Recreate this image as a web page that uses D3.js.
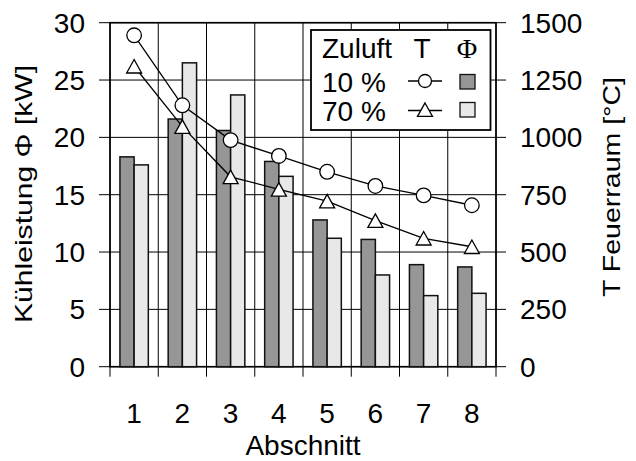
<!DOCTYPE html>
<html><head><meta charset="utf-8">
<script src="https://cdn.jsdelivr.net/npm/d3@7"></script>
<style>body{margin:0;background:#fff}svg{display:block}text{font-family:"Liberation Sans",Arial,sans-serif;fill:#000}</style>
</head><body><svg id="c" width="636" height="461"></svg>
<script>
const categories = ["1","2","3","4","5","6","7","8"];
const phi10 = [18.3, 21.6, 20.6, 17.9, 12.8, 11.1, 8.9, 8.7];
const phi70 = [17.6, 26.5, 23.7, 16.6, 11.2, 8.0, 6.2, 6.4];
const temp10 = [1445, 1140, 988, 919, 850, 788, 747, 704];
const temp70 = [1310, 1047, 828, 773, 722, 637, 560, 523];
const leftTicks = [0,5,10,15,20,25,30];
const rightTicks = [0,250,500,750,1000,1250,1500];

const svg = d3.select("#c");
const L=110, R=496, T=22.7, B=366.7;
const x = d3.scaleBand().domain(categories).range([L,R]).padding(0);
const y = d3.scaleLinear().domain([0,30]).range([B,T]);
const yT = d3.scaleLinear().domain([0,1500]).range([B,T]);
const cx = d => x(d)+x.bandwidth()/2;
const bw = 14.2;
const dark="#969696", light="#e8e8e8";

// grid
const g = svg.append("g");
g.selectAll(".hg").data(leftTicks).join("line")
 .attr("x1",L-11).attr("x2",R).attr("y1",d=>y(d)).attr("y2",d=>y(d))
 .attr("stroke","#000").attr("stroke-width",1);
g.selectAll(".rt").data(rightTicks).join("line")
 .attr("x1",R).attr("x2",R+10).attr("y1",d=>yT(d)).attr("y2",d=>yT(d))
 .attr("stroke","#000").attr("stroke-width",1);
const bounds = d3.range(categories.length+1).map(i=>L+i*x.bandwidth());
g.selectAll(".vg").data(bounds).join("line")
 .attr("x1",d=>d).attr("x2",d=>d).attr("y1",T).attr("y2",B+10)
 .attr("stroke","#000").attr("stroke-width",1);
g.append("rect").attr("x",L).attr("y",T).attr("width",R-L).attr("height",B-T)
 .attr("fill","none").attr("stroke","#000").attr("stroke-width",1.6);

// bars
svg.append("g").selectAll("rect").data(categories).join("rect")
 .attr("x",d=>cx(d)-bw).attr("width",bw)
 .attr("y",(d,i)=>y(phi10[i])).attr("height",(d,i)=>B-y(phi10[i]))
 .attr("fill",dark).attr("stroke","#111").attr("stroke-width",1.5);
svg.append("g").selectAll("rect").data(categories).join("rect")
 .attr("x",d=>cx(d)).attr("width",bw)
 .attr("y",(d,i)=>y(phi70[i])).attr("height",(d,i)=>B-y(phi70[i]))
 .attr("fill",light).attr("stroke","#111").attr("stroke-width",1.5);

// lines
const line = d3.line().x((d,i)=>cx(categories[i])).y(d=>yT(d));
svg.append("path").datum(temp10).attr("d",line).attr("fill","none").attr("stroke","#000").attr("stroke-width",1.3);
svg.append("path").datum(temp70).attr("d",line).attr("fill","none").attr("stroke","#000").attr("stroke-width",1.3);
function triPath(px,py){ const h=13.5,w=15; return `M${px},${py-h/2}L${px+w/2},${py+h/2}L${px-w/2},${py+h/2}Z`; }
svg.append("g").selectAll("circle").data(temp10).join("circle")
 .attr("cx",(d,i)=>cx(categories[i])).attr("cy",d=>yT(d)).attr("r",7.3)
 .attr("fill","#fff").attr("stroke","#000").attr("stroke-width",1.3);
svg.append("g").selectAll("path").data(temp70).join("path")
 .attr("d",(d,i)=>triPath(cx(categories[i]),yT(d)))
 .attr("fill","#fff").attr("stroke","#000").attr("stroke-width",1.3);

// axis labels
svg.append("g").selectAll("text").data(leftTicks).join("text")
 .attr("x",85).attr("y",d=>y(d)).attr("dy","0.36em").attr("text-anchor","end")
 .attr("font-size",28).text(d=>d);
svg.append("g").selectAll("text").data(rightTicks).join("text")
 .attr("x",520).attr("y",d=>yT(d)).attr("dy","0.36em").attr("text-anchor","start")
 .attr("font-size",28).text(d=>d);
svg.append("g").selectAll("text").data(categories).join("text")
 .attr("x",d=>cx(d)).attr("y",422.5).attr("text-anchor","middle")
 .attr("font-size",28).text(d=>d);
svg.append("text").attr("x",(L+R)/2).attr("y",455).attr("text-anchor","middle")
 .attr("font-size",28).text("Abschnitt");
svg.append("text").attr("transform","translate(31.5,194) rotate(-90)").attr("text-anchor","middle")
 .attr("font-size",24).attr("textLength",258).attr("lengthAdjust","spacingAndGlyphs")
 .text("Kühleistung Φ [kW]");
svg.append("text").attr("transform","translate(620,187) rotate(-90)").attr("text-anchor","middle")
 .attr("font-size",24).attr("textLength",220).attr("lengthAdjust","spacingAndGlyphs")
 .text("T Feuerraum [°C]");

// legend
const lg = svg.append("g");
lg.append("rect").attr("x",311).attr("y",30).attr("width",179.5).attr("height",100)
 .attr("fill","#fff").attr("stroke","#000").attr("stroke-width",1.8);
lg.append("text").attr("x",322).attr("y",58).attr("font-size",28).text("Zuluft");
lg.append("text").attr("x",422).attr("y",58).attr("text-anchor","middle").attr("font-size",28).text("T");
lg.append("text").attr("x",467).attr("y",58).attr("text-anchor","middle").attr("font-size",28)
 .style("font-family","'Liberation Serif','Times New Roman',serif").text("Φ");
lg.append("text").attr("x",322).attr("y",92).attr("font-size",28).text("10 %");
lg.append("text").attr("x",322).attr("y",120.5).attr("font-size",28).text("70 %");
lg.append("line").attr("x1",408).attr("x2",442).attr("y1",81).attr("y2",81).attr("stroke","#000").attr("stroke-width",1.3);
lg.append("circle").attr("cx",425).attr("cy",81).attr("r",6.5).attr("fill","#fff").attr("stroke","#000").attr("stroke-width",1.3);
lg.append("line").attr("x1",408).attr("x2",442).attr("y1",110.5).attr("y2",110.5).attr("stroke","#000").attr("stroke-width",1.3);
lg.append("path").attr("d",triPath(425,109.7)).attr("fill","#fff").attr("stroke","#000").attr("stroke-width",1.3);
lg.append("rect").attr("x",460).attr("y",74.5).attr("width",15).attr("height",14.5).attr("fill",dark).attr("stroke","#111").attr("stroke-width",1.3);
lg.append("rect").attr("x",460).attr("y",102.5).attr("width",15).attr("height",14.5).attr("fill",light).attr("stroke","#111").attr("stroke-width",1.3);
</script></body></html>
